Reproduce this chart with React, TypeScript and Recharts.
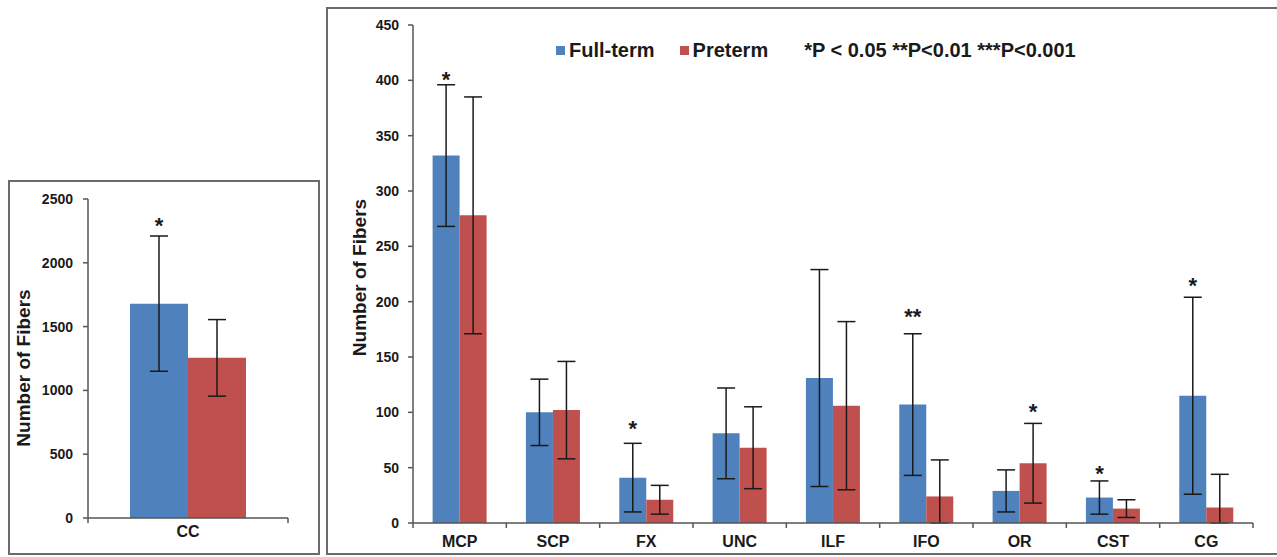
import React from 'react';
import { BarChart, Bar, XAxis, YAxis, ErrorBar, LabelList, Legend } from 'recharts';

const FONT = '"Liberation Sans", Arial, sans-serif';
const BLUE = '#4F81BD';
const RED = '#C0504D';
const AXIS = '#555';
const INK = '#1a1a1a';

// right panel: tracts
const tracts = ['MCP', 'SCP', 'FX', 'UNC', 'ILF', 'IFO', 'OR', 'CST', 'CG'];
const fullTerm = [332, 100, 41, 81, 131, 107, 29, 23, 115];
const fullTermErr = [[64, 64], [30, 30], [31, 31], [41, 41], [98, 98], [64, 64], [19, 19], [15, 15], [89, 89]];
const preterm = [278, 102, 21, 68, 106, 24, 54, 13, 14];
const pretermErr = [[107, 107], [44, 44], [13, 13], [37, 37], [76, 76], [24, 33], [36, 36], [8, 8], [14, 30]];
const fullTermSig = ['*', '', '*', '', '', '**', '', '*', '*'];
const fullTermSigAt = [406, 0, 90, 0, 0, 192, 0, 50, 220];
const pretermSig = ['', '', '', '', '', '', '*', '', ''];
const pretermSigAt = [0, 0, 0, 0, 0, 0, 106, 0, 0];
const tractTicks = [0, 50, 100, 150, 200, 250, 300, 350, 400, 450];

// left panel: corpus callosum
const ccLabels = ['CC'];
const ccFull = [1680];
const ccFullErr = [[530, 530]];
const ccPre = [1255];
const ccPreErr = [[300, 300]];
const ccFullSig = ['*'];
const ccFullSigAt = [2335];
const ccPreSig = [''];
const ccPreSigAt = [0];
const ccTicks = [0, 500, 1000, 1500, 2000, 2500];

const seriesNames = ['Full-term', 'Preterm'];
const pNote = '*P < 0.05 **P<0.01 ***P<0.001';

const tractData = tracts.map((name, i) => ({
  name,
  full: fullTerm[i],
  fullErr: fullTermErr[i],
  fullSig: fullTermSig[i],
  pre: preterm[i],
  preErr: pretermErr[i],
  preSig: pretermSig[i],
}));

const ccData = ccLabels.map((name, i) => ({
  name,
  full: ccFull[i],
  fullErr: ccFullErr[i],
  fullSig: ccFullSig[i],
  pre: ccPre[i],
  preErr: ccPreErr[i],
  preSig: ccPreSig[i],
}));

// star above a bar, placed at a value on the bar's own scale
const makeStars = (values: number[], marks: string[], at: number[]) => (props: any) => {
  const { index } = props;
  const mark = marks[index];
  if (!mark) return null;
  const vb = props.viewBox ?? props;
  const { x, y, width, height } = vb;
  const bottom = y + height;
  const cy = bottom - at[index] * (height / values[index]);
  return (
    <text x={x + width / 2} y={cy + 13} textAnchor="middle" fontSize={22} fontWeight="bold" fill={INK} fontFamily={FONT}>
      {mark}
    </text>
  );
};

// category tick with marks at the band edges (Excel style)
const makeBandTick = (capGap: number) => (props: any) => {
  const { x, y, payload, index, visibleTicksCount } = props;
  const half = payload?.offset ?? 0;
  return (
    <g>
      <line x1={x - half} y1={y} x2={x - half} y2={y + 5} stroke={AXIS} strokeWidth={1.5} />
      {index === visibleTicksCount - 1 && (
        <line x1={x + half} y1={y} x2={x + half} y2={y + 5} stroke={AXIS} strokeWidth={1.5} />
      )}
      <text x={x} y={y + capGap + 11.5} textAnchor="middle" fontSize={16} fontWeight="bold" fill={INK} fontFamily={FONT}>
        {payload.value}
      </text>
    </g>
  );
};

const YLabel = (props: any) => {
  const { viewBox, cx, dy } = props;
  const vb = viewBox ?? { x: 0, y: 0, width: 0, height: 0 };
  const ty = vb.y + vb.height / 2 + dy;
  return (
    <text
      transform={`translate(${vb.x + cx}, ${ty}) rotate(-90)`}
      textAnchor="middle"
      dominantBaseline="central"
      fontSize={19}
      fontWeight="bold"
      fill={INK}
      fontFamily={FONT}
    >
      Number of Fibers
    </text>
  );
};

const renderLegend = () => (
  <div
    style={{
      display: 'flex',
      alignItems: 'center',
      height: 20,
      lineHeight: '20px',
      whiteSpace: 'nowrap',
      font: `bold 20px ${FONT}`,
      color: INK,
    }}
  >
    {seriesNames.map((s, i) => (
      <span key={s} style={{ display: 'flex', alignItems: 'center', marginRight: i === 0 ? 25 : 36 }}>
        <span style={{ width: 9, height: 9, background: i === 0 ? BLUE : RED, marginRight: 4 }} />
        {s}
      </span>
    ))}
    <span>{pNote}</span>
  </div>
);

const yTick = { fill: INK, fontSize: 14, fontWeight: 'bold', fontFamily: FONT };

export default function App() {
  return (
    <div style={{ position: 'absolute', left: 0, top: 0, width: 1277, height: 557, overflow: 'hidden', background: '#fff' }}>
      <div style={{ position: 'absolute', left: 8, top: 180, width: 312, height: 375, outline: '2px solid #6a6a6a', outlineOffset: -2 }}>
        <BarChart width={312} height={375} data={ccData} margin={{ top: 19, right: 32, left: 0, bottom: 7 }} barCategoryGap="21%" barGap={0}>
          <XAxis dataKey="name" height={30} stroke={AXIS} strokeWidth={1.5} tickLine={false} tickSize={0} tickMargin={0} tick={makeBandTick(7)} />
          <YAxis width={80} domain={[0, 2500]} ticks={ccTicks} stroke={AXIS} strokeWidth={1.5} tickSize={5} tickMargin={10} tick={yTick} label={<YLabel cx={15.5} dy={9.5} />} />
          <Bar dataKey="full" fill={BLUE} isAnimationActive={false}>
            <ErrorBar dataKey="fullErr" width={9} stroke={INK} strokeWidth={1.5} direction="y" />
            <LabelList dataKey="fullSig" content={makeStars(ccFull, ccFullSig, ccFullSigAt)} />
          </Bar>
          <Bar dataKey="pre" fill={RED} isAnimationActive={false}>
            <ErrorBar dataKey="preErr" width={9} stroke={INK} strokeWidth={1.5} direction="y" />
            <LabelList dataKey="preSig" content={makeStars(ccPre, ccPreSig, ccPreSigAt)} />
          </Bar>
        </BarChart>
      </div>

      <div style={{ position: 'absolute', left: 326, top: 7, width: 960, height: 548, outline: '2px solid #6a6a6a', outlineOffset: -2 }}>
        <BarChart width={960} height={548} data={tractData} margin={{ top: 18, right: 33, left: 0, bottom: 2 }} barCategoryGap="21%" barGap={0}>
          <XAxis dataKey="name" height={30} stroke={AXIS} strokeWidth={1.5} tickLine={false} tickSize={0} tickMargin={0} tick={makeBandTick(12)} />
          <YAxis width={87} domain={[0, 450]} ticks={tractTicks} stroke={AXIS} strokeWidth={1.5} tickSize={5} tickMargin={9} tick={yTick} label={<YLabel cx={33} dy={3.5} />} />
          <Legend
            layout="horizontal"
            verticalAlign="middle"
            align="center"
            content={renderLegend}
            wrapperStyle={{ left: 230, top: 33, width: 'auto', height: 20 }}
          />
          <Bar dataKey="full" name={seriesNames[0]} fill={BLUE} isAnimationActive={false}>
            <ErrorBar dataKey="fullErr" width={9} stroke={INK} strokeWidth={1.5} direction="y" />
            <LabelList dataKey="fullSig" content={makeStars(fullTerm, fullTermSig, fullTermSigAt)} />
          </Bar>
          <Bar dataKey="pre" name={seriesNames[1]} fill={RED} isAnimationActive={false}>
            <ErrorBar dataKey="preErr" width={9} stroke={INK} strokeWidth={1.5} direction="y" />
            <LabelList dataKey="preSig" content={makeStars(preterm, pretermSig, pretermSigAt)} />
          </Bar>
        </BarChart>
      </div>
    </div>
  );
}
